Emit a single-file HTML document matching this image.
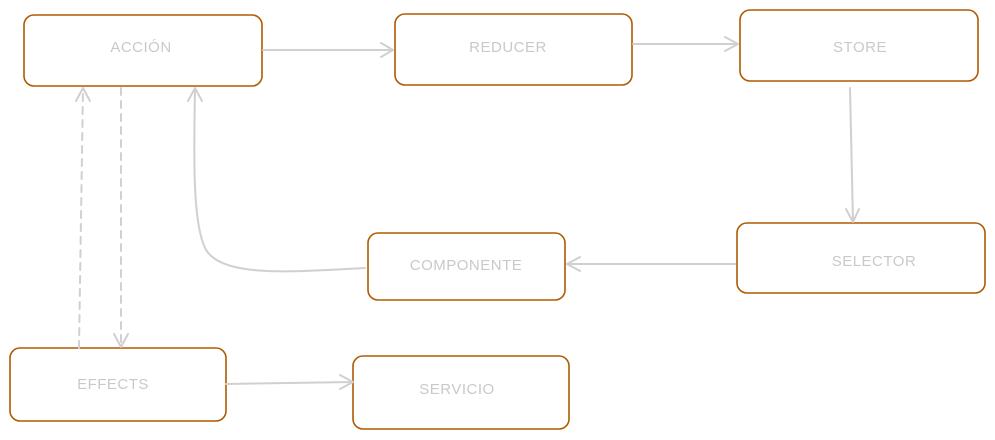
<!DOCTYPE html>
<html><head><meta charset="utf-8"><style>
html,body{margin:0;padding:0;background:#fff}
svg{display:block}
text{font-family:"Liberation Sans",sans-serif;font-size:15px;fill:#c9c9c9;text-anchor:middle;dominant-baseline:middle;letter-spacing:0.5px}
.b{fill:none;stroke:#b05a00;stroke-width:1.6}
.a{fill:none;stroke:#d0d0d0;stroke-width:2;stroke-linecap:round;stroke-linejoin:round}
.d{stroke-dasharray:7 6}
</style></head><body>
<svg width="995" height="440" viewBox="0 0 995 440">
<rect class="b" x="24" y="15" width="238" height="71" rx="10"/>
<rect class="b" x="395" y="14" width="237" height="71" rx="10"/>
<rect class="b" x="740" y="10" width="238" height="71" rx="10"/>
<rect class="b" x="737" y="223" width="248" height="70" rx="10"/>
<rect class="b" x="368" y="233" width="197" height="67" rx="10"/>
<rect class="b" x="10" y="348" width="216" height="73" rx="10"/>
<rect class="b" x="353" y="356" width="216" height="73" rx="10"/>
<text x="141" y="48">ACCIÓN</text>
<text x="508" y="48">REDUCER</text>
<text x="860" y="48">STORE</text>
<text x="874" y="262">SELECTOR</text>
<text x="466" y="266">COMPONENTE</text>
<text x="113" y="385">EFFECTS</text>
<text x="457" y="390">SERVICIO</text>
<path class="a" d="M263 50 L393 50 M381 43 L393 50 L381 57"/>
<path class="a" d="M633 44 L738 44 M725 37 L738 44 L725 51"/>
<path class="a" d="M850 88 L853 222 M846 209 L853 222 L859 209"/>
<path class="a" d="M735 264 L567 264 M580 257 L567 264 L580 271"/>
<path class="a" d="M365 268 C290 272 220 278 205 248 C192 220 194 150 195 88 M188 101 L195 88 L202 101"/>
<path class="a d" d="M79 348 L83 88"/>
<path class="a" d="M76 101 L83 88 L90 101"/>
<path class="a d" d="M121 88 L121 347"/>
<path class="a" d="M114 334 L121 347 L128 334"/>
<path class="a" d="M226 384 L353 382 M340 375 L353 382 L340 389"/>
</svg>
</body></html>
